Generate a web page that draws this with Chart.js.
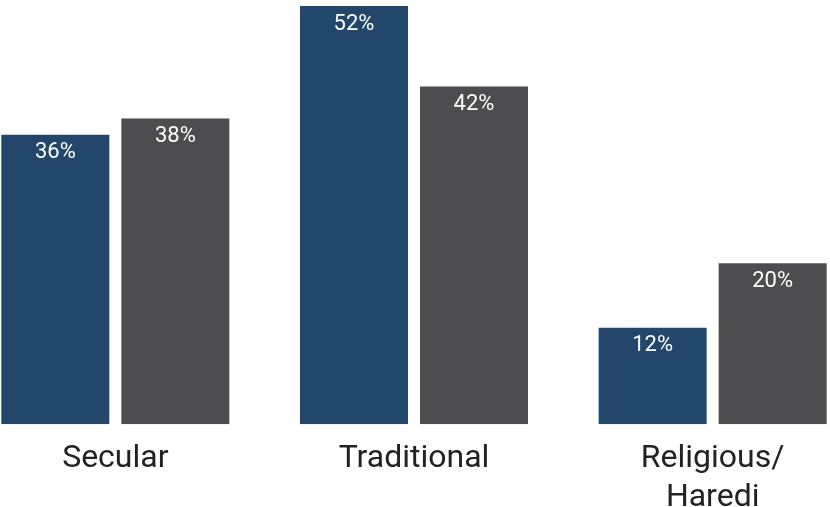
<!DOCTYPE html>
<html>
<head>
<meta charset="utf-8">
<script src="https://cdn.jsdelivr.net/npm/chart.js@4"></script>
<style>
  html, body { margin: 0; padding: 0; background: #ffffff; overflow: hidden; width: 830px; height: 507px; }
  #wrap { position: absolute; left: -34px; top: 0; width: 896px; height: 525px; }
</style>
</head>
<body>
<div id="wrap"><canvas id="c" width="896" height="525"></canvas></div>
<script>
const categories = ["Secular", "Traditional", ["Religious/", "Haredi"]];
const seriesA = [36, 52, 12];
const seriesB = [38, 42, 20];
const seriesNames = ["Series A", "Series B"];
const colorA = "#23476B";
const colorB = "#4D4D4F";

const valueLabels = {
  id: "valueLabels",
  afterDatasetsDraw(chart) {
    const ctx = chart.ctx;
    ctx.save();
    ctx.fillStyle = "#ffffff";
    ctx.font = "22px Roboto";
    ctx.textAlign = "center";
    ctx.textBaseline = "middle";
    chart.data.datasets.forEach((ds, i) => {
      const meta = chart.getDatasetMeta(i);
      meta.data.forEach((el, j) => {
        ctx.fillText(ds.data[j] + "%", el.x, el.y + 18);
      });
    });
    ctx.restore();
  }
};

new Chart(document.getElementById("c"), {
  type: "bar",
  data: {
    labels: categories,
    datasets: [
      { label: seriesNames[0], data: seriesA, backgroundColor: colorA },
      { label: seriesNames[1], data: seriesB, backgroundColor: colorB }
    ]
  },
  options: {
    responsive: false,
    animation: false,
    categoryPercentage: 0.8036,
    barPercentage: 0.9,
    layout: { padding: { top: 6, bottom: 0, left: 0, right: 0 } },
    plugins: { legend: { display: false }, tooltip: { enabled: false } },
    scales: {
      x: {
        grid: { display: false },
        border: { display: false },
        ticks: {
          color: "#222222",
          font: { family: "Roboto", size: 32, lineHeight: 1.2 },
          padding: 8,
          maxRotation: 0,
          autoSkip: false
        }
      },
      y: {
        display: false,
        min: 0,
        max: 52
      }
    }
  },
  plugins: [valueLabels]
});
</script>
</body>
</html>
